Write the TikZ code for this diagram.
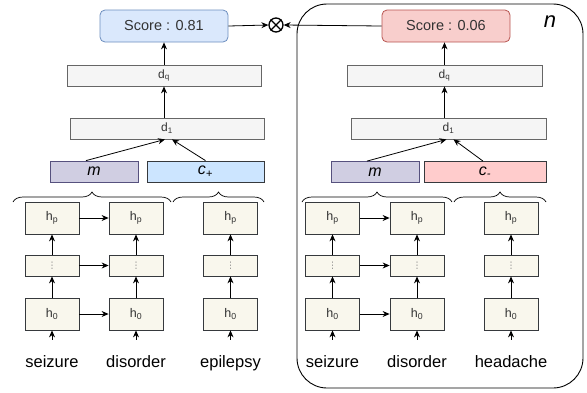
\documentclass[tikz,border=0pt]{standalone}
\usepackage{fontspec}
\setmainfont{Liberation Sans}
\newfontfamily\symfont{DejaVu Sans}
\usepackage{tikz}
\usetikzlibrary{arrows.meta,decorations.pathreplacing}

\definecolor{posfill}{HTML}{DAE8FC}
\definecolor{posedge}{HTML}{6C8EBF}
\definecolor{negfill}{HTML}{F8CECC}
\definecolor{negedge}{HTML}{B85450}
\definecolor{layerfill}{HTML}{F5F5F5}
\definecolor{layeredge}{HTML}{666666}
\definecolor{cellfill}{HTML}{F9F7ED}
\definecolor{celledge}{HTML}{36393D}
\definecolor{mfill}{HTML}{D0CEE2}
\definecolor{medge}{HTML}{56517E}
\definecolor{cposfill}{HTML}{CCE5FF}
\definecolor{cnegfill}{HTML}{FFCCCC}
\definecolor{inktext}{HTML}{333333}

\tikzset{
  arr/.style={-{Stealth[length=7pt,width=6pt]},line width=0.8pt},
  score/.style={rounded corners=5pt,minimum width=128pt,minimum height=32pt,inner sep=0pt,
    line width=0.8pt,text=inktext,font=\fontsize{14.5}{16}\selectfont},
  layer/.style={draw=layeredge,fill=layerfill,minimum width=194pt,minimum height=21pt,
    inner sep=0pt,line width=0.8pt,text=inktext,font=\fontsize{12}{14}\selectfont},
  embed/.style={draw=celledge,minimum height=21pt,inner sep=0pt,line width=0.8pt,
    font=\fontsize{16}{18}\selectfont\itshape},
  hcell/.style={draw=celledge,fill=cellfill,minimum width=54pt,minimum height=32pt,
    inner sep=0pt,line width=0.8pt,text=inktext,font=\fontsize{12.5}{14}\selectfont},
  dotcell/.style={hcell,minimum height=21pt},
  word/.style={anchor=base,text height=12pt,inner ysep=15pt,font=\fontsize{16.5}{18}\selectfont},
  bracket/.style={decorate,decoration={brace,amplitude=10pt},line width=0.7pt}
}

\newcommand{\hp}{h\textsubscript{p}}
\newcommand{\hz}{h\textsubscript{0}}
\newcommand{\vdts}{{\color{gray}\symfont\fontsize{9}{9}\selectfont ⋮}}

\begin{document}
\begin{tikzpicture}[x=1pt,y=-1pt]
            \useasboundingbox (0,0) rectangle (587,392);
            % negative sample box
            \draw[line width=0.9pt,rounded corners=30pt] (297,4) rectangle (583,388);
            \node[font=\fontsize{22}{24}\selectfont\itshape] (nlabel) at (550,22) {n};

            % positive side
            \node[score,draw=posedge,fill=posfill] (scoreL) at (164,26) {Score : 0.81};
            \node[layer] (dqL) at (164,75.5) {d\textsubscript{q}};
            \node[layer] (d1L) at (167,128.5) {d\textsubscript{1}};
            \node[embed,draw=medge,fill=mfill,minimum width=88pt] (mL) at (94,171.5) {m};
            \node[embed,fill=cposfill,minimum width=117pt] (cL) at (205.5,171.5) {c\textsubscript{+}};

            \node[hcell] (hpA) at (52,218) {\hp};
            \node[dotcell] (dtA) at (52,265.5) {\vdts};
            \node[hcell] (h0A) at (52,314) {\hz};
            \node[hcell] (hpB) at (136,218) {\hp};
            \node[dotcell] (dtB) at (136,265.5) {\vdts};
            \node[hcell] (h0B) at (136,314) {\hz};
            \node[hcell] (hpC) at (230.5,218) {\hp};
            \node[dotcell] (dtC) at (230.5,265.5) {\vdts};
            \node[hcell] (h0C) at (230.5,314) {\hz};

            \node[word] (wA) at (52,367) {seizure};
            \node[word] (wB) at (136,367) {disorder};
            \node[word] (wC) at (230.5,367) {epilepsy};

            % negative side
            \node[score,draw=negedge,fill=negfill] (scoreR) at (446,26) {Score : 0.06};
            \node[layer,minimum width=195pt] (dqR) at (444.5,75.5) {d\textsubscript{q}};
            \node[layer,minimum width=195pt] (d1R) at (448.5,128.5) {d\textsubscript{1}};
            \node[embed,draw=medge,fill=mfill,minimum width=88pt] (mR) at (375,172) {m};
            \node[embed,fill=cnegfill,minimum width=122pt] (cR) at (485,172) {c\textsubscript{-}};

            \node[hcell] (hpD) at (332.5,218) {\hp};
            \node[dotcell] (dtD) at (332.5,265.5) {\vdts};
            \node[hcell] (h0D) at (332.5,314) {\hz};
            \node[hcell] (hpE) at (417,218) {\hp};
            \node[dotcell] (dtE) at (417,265.5) {\vdts};
            \node[hcell] (h0E) at (417,314) {\hz};
            \node[hcell] (hpF) at (511,218) {\hp};
            \node[dotcell] (dtF) at (511,265.5) {\vdts};
            \node[hcell] (h0F) at (511,314) {\hz};

            \node[word] (wD) at (332.5,367) {seizure};
            \node[word] (wE) at (417,367) {disorder};
            \node[word] (wF) at (511,367) {headache};

            % product of the two scores
            \node[circle,draw,line width=1.3pt,minimum size=14pt,inner sep=0pt] (mult) at (276,25) {};
            \draw[line width=1.3pt] (mult.north west) -- (mult.south east);
            \draw[line width=1.3pt] (mult.north east) -- (mult.south west);
            \draw[arr] (scoreL.east) -- (mult.west);
            \draw[arr] (scoreR.west) -- (mult.east);

            % stacks
            \draw[arr] (dqL.south |- d1L.north) -- (dqL.south);
            \draw[arr] (dqL.north) -- (dqL.north |- scoreL.south);
            \draw[arr] ([xshift=-8pt]mL.north) -- ([xshift=-2pt]d1L.south);
            \draw[arr] (cL.north) -- ([xshift=5pt]d1L.south);
            \draw[arr] (dqR.south |- d1R.north) -- (dqR.south);
            \draw[arr] (dqR.north) -- (dqR.north |- scoreR.south);
            \draw[arr] ([xshift=-8pt]mR.north) -- ([xshift=-2pt]d1R.south);
            \draw[arr] ([xshift=-2pt]cR.north) -- ([xshift=5pt]d1R.south);

            % braces
            \draw[bracket] (13,202) -- (171,202);
            \draw[bracket] (173,202) -- (264,202);
            \draw[bracket] (302,202) -- (452,202);
            \draw[bracket] (454,202) -- (546,202);

            % encoders
            \draw[arr] (wA) -- (h0A);  \draw[arr] (h0A) -- (dtA);  \draw[arr] (dtA) -- (hpA);
            \draw[arr] (wB) -- (h0B);  \draw[arr] (h0B) -- (dtB);  \draw[arr] (dtB) -- (hpB);
            \draw[arr] (wC) -- (h0C);  \draw[arr] (h0C) -- (dtC);  \draw[arr] (dtC) -- (hpC);
            \draw[arr] (wD) -- (h0D);  \draw[arr] (h0D) -- (dtD);  \draw[arr] (dtD) -- (hpD);
            \draw[arr] (wE) -- (h0E);  \draw[arr] (h0E) -- (dtE);  \draw[arr] (dtE) -- (hpE);
            \draw[arr] (wF) -- (h0F);  \draw[arr] (h0F) -- (dtF);  \draw[arr] (dtF) -- (hpF);
            \draw[arr] (hpA) -- (hpB);  \draw[arr] (dtA) -- (dtB);  \draw[arr] (h0A) -- (h0B);
            \draw[arr] (hpD) -- (hpE);  \draw[arr] (dtD) -- (dtE);  \draw[arr] (h0D) -- (h0E);
\end{tikzpicture}
\end{document}
